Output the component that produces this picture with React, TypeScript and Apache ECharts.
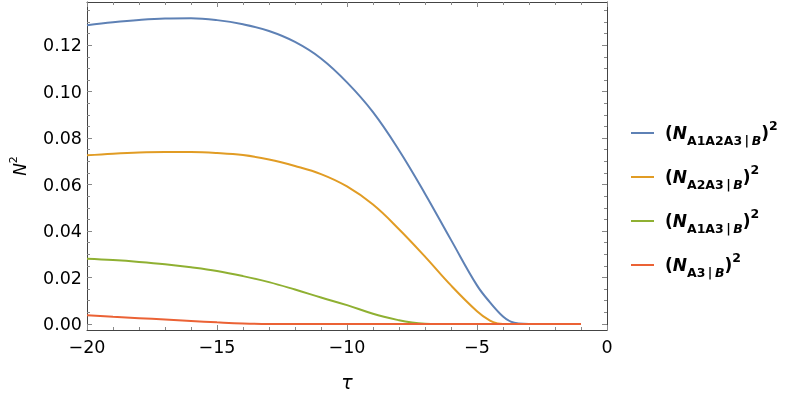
import React, { useEffect, useRef } from "react";
import * as echarts from "echarts";

const tauBlue = [-20, -19, -18, -17, -16, -15, -14, -13, -12, -11, -10, -9, -8, -7, -6, -5, -4.5, -4, -3.7, -3.4, -3, -2, -1];
const valBlue = [0.1286, 0.1299, 0.1309, 0.1315, 0.1316, 0.1308, 0.129, 0.1261, 0.1214, 0.1143, 0.1040, 0.0912, 0.0748, 0.0561, 0.0362, 0.0166, 0.0093, 0.0032, 0.001, 0.0002, 0, 0, 0];

const tauOrange = [-20, -19, -18, -17, -16, -15, -14, -13, -12, -11, -10, -9, -8, -7, -6, -5, -4.5, -4.2, -4, -3, -2, -1];
const valOrange = [0.0726, 0.0733, 0.0738, 0.074, 0.074, 0.0736, 0.0727, 0.0708, 0.068, 0.0645, 0.0592, 0.0514, 0.0408, 0.029, 0.0166, 0.0055, 0.0014, 0.0002, 0, 0, 0, 0];

const tauGreen = [-20, -19, -18, -17, -16, -15, -14, -13, -12, -11, -10, -9, -8, -7.5, -7, -6.5, -5, -3, -1];
const valGreen = [0.0281, 0.0275, 0.0267, 0.0257, 0.0244, 0.0228, 0.0206, 0.018, 0.0148, 0.0114, 0.0081, 0.0044, 0.0016, 0.0006, 0.0001, 0, 0, 0, 0];

const tauRed = [-20, -19, -18, -17, -16, -15, -14, -13, -12, -9, -6, -3, -1];
const valRed = [0.0038, 0.0031, 0.0025, 0.0019, 0.0013, 0.0007, 0.0002, 0, 0, 0, 0, 0, 0];

const seriesNames = ["A1A2A3", "A2A3", "A1A3", "A3"];
const seriesColors = ["#5E81B5", "#E19C24", "#8FB032", "#EB6235"];

const yMajorTicks = [0, 0.02, 0.04, 0.06, 0.08, 0.1, 0.12];
const yMinorStep = 0.005;
const xTickInterval = 5;

const FONT = "DejaVu Sans";

function zip(xs: number[], ys: number[]) {
  return xs.map((x, i) => [x, ys[i]]);
}

export default function App() {
  const ref = useRef<HTMLDivElement>(null);
  useEffect(() => {
    if (!ref.current) return;
    const chart = echarts.init(ref.current, null, { renderer: "svg" });
    const yMin = -0.0026;
    const yMax = 0.1386;
    const yMinor: number[] = [];
    for (let i = 0; i * yMinorStep <= yMax; i++) yMinor.push(+(i * yMinorStep).toFixed(4));

    const lineStyle = { color: "#444", width: 1 };
    const tickStyle = { color: "#888", width: 1 };

    const xAxisBase = {
      type: "value" as const,
      min: -20,
      max: 0,
      interval: xTickInterval,
      splitLine: { show: false },
      axisLine: { show: true, onZero: false, lineStyle },
      axisTick: { show: true, inside: true, length: 5, lineStyle: tickStyle },
      minorTick: { show: true, splitNumber: 5, length: 3, lineStyle: tickStyle },
    };
    const yAxisBase = {
      type: "value" as const,
      min: yMin,
      max: yMax,
      splitLine: { show: false },
    };

    const datas = [zip(tauBlue, valBlue), zip(tauOrange, valOrange), zip(tauGreen, valGreen), zip(tauRed, valRed)];

    const richMain = { fontFamily: FONT, fontWeight: "bold", fontSize: 17, color: "#000", lineHeight: 28 };
    const richSub = { fontFamily: FONT, fontWeight: "bold", fontSize: 12.5, color: "#000", lineHeight: 18, verticalAlign: "bottom" };

    chart.setOption({
      animation: false,
      grid: { left: 73, right: 182, top: 2, bottom: 66, containLabel: false },
      xAxis: [
        {
          ...xAxisBase,
          position: "bottom",
          name: "τ",
          nameLocation: "middle",
          nameGap: 42,
          nameTextStyle: { fontFamily: FONT, fontStyle: "italic", fontSize: 19, color: "#000" },
          axisLabel: {
            show: true,
            margin: 8,
            fontFamily: FONT,
            fontSize: 17.5,
            color: "#000",
            formatter: (v: number) => String(v).replace("-", "\u2212"),
          },
        },
        { ...xAxisBase, position: "top", axisLabel: { show: false } },
      ],
      yAxis: [
        {
          ...yAxisBase,
          position: "left",
          name: "{n|N}{sup|2}",
          nameLocation: "middle",
          nameRotate: 90,
          nameGap: 55,
          nameTextStyle: {
            rich: {
              n: { fontFamily: FONT, fontStyle: "italic", fontSize: 17, color: "#000", lineHeight: 24 },
              sup: { fontFamily: FONT, fontSize: 11, color: "#000", lineHeight: 14, verticalAlign: "top" },
            },
          },
          axisLine: { show: true, onZero: false, lineStyle },
          axisTick: { show: true, inside: true, length: 5, lineStyle: tickStyle, customValues: yMajorTicks },
          axisLabel: {
            show: true,
            margin: 5,
            fontFamily: FONT,
            fontSize: 17.5,
            color: "#000",
            customValues: yMajorTicks,
            formatter: (v: number) => v.toFixed(2),
          },
        },
        {
          ...yAxisBase,
          position: "left",
          offset: 0,
          axisLine: { show: false, onZero: false },
          axisLabel: { show: false },
          axisTick: { show: true, inside: true, length: 3, lineStyle: tickStyle, customValues: yMinor },
        },
        {
          ...yAxisBase,
          position: "right",
          offset: 0,
          axisLine: { show: true, onZero: false, lineStyle },
          axisLabel: { show: false },
          axisTick: { show: true, inside: true, length: 5, lineStyle: tickStyle, customValues: yMajorTicks },
        },
        {
          ...yAxisBase,
          position: "right",
          offset: 0,
          axisLine: { show: false, onZero: false },
          axisLabel: { show: false },
          axisTick: { show: true, inside: true, length: 3, lineStyle: tickStyle, customValues: yMinor },
        },
      ],
      legend: {
        orient: "vertical",
        left: 626,
        top: 114,
        itemGap: 16,
        itemWidth: 23,
        itemHeight: 2,
        icon: "rect",
        data: seriesNames,
        formatter: (name: string) => `{p|(}{n|N}{s|${name}\u2009|\u2009}{b|B}{p|)}{sup|2}`,
        textStyle: {
          padding: [0, 0, 0, 6],
          rich: {
            p: { ...richMain },
            n: { ...richMain, fontStyle: "italic" },
            s: { ...richSub },
            b: { ...richSub, fontStyle: "italic" },
            sup: { fontFamily: FONT, fontWeight: "bold", fontSize: 12.5, color: "#000", lineHeight: 16, verticalAlign: "top" },
          },
        },
      },
      series: seriesNames.map((name, i) => ({
        name,
        type: "line",
        xAxisIndex: 0,
        yAxisIndex: 0,
        data: datas[i],
        symbol: "none",
        smooth: 0.4,
        color: seriesColors[i],
        lineStyle: { color: seriesColors[i], width: 2 },
      })),
    });
    return () => chart.dispose();
  }, []);
  return <div ref={ref} style={{ position: "fixed", left: 0, top: 0, width: 789, height: 396 }} />;
}
